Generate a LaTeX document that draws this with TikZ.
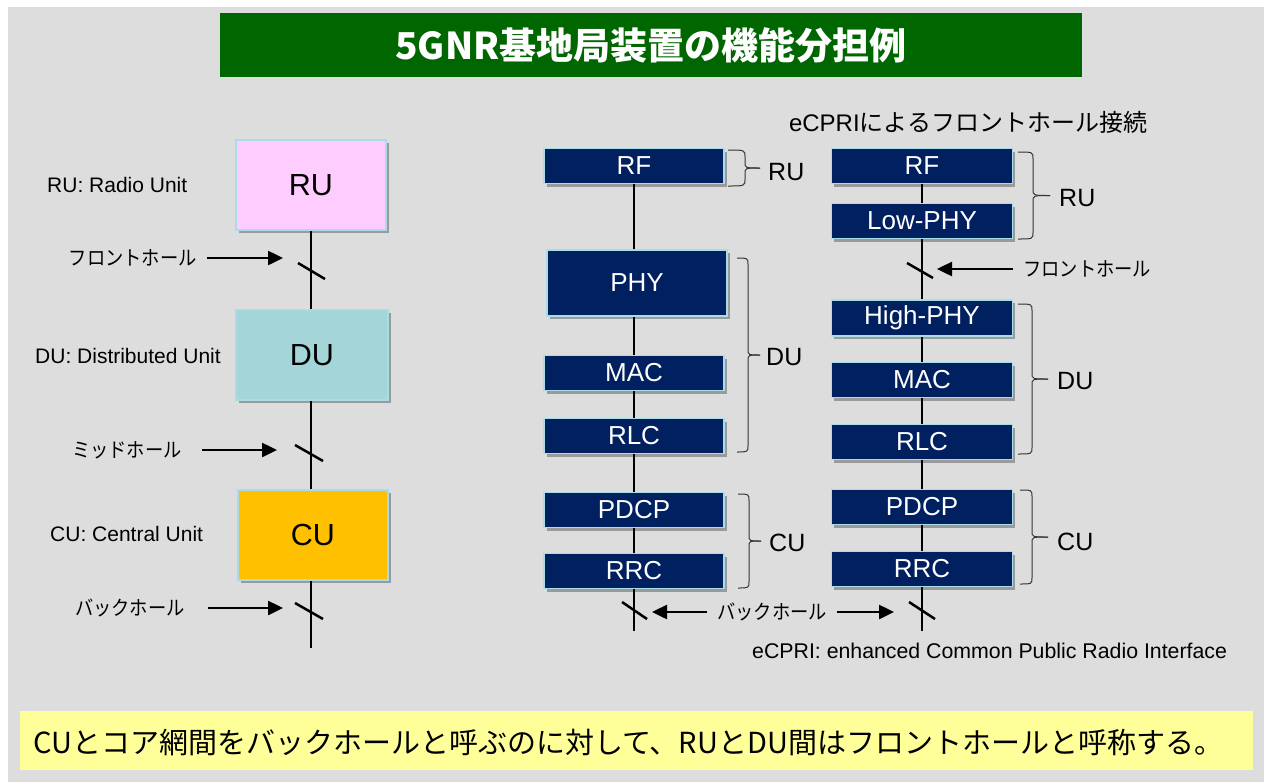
\documentclass[tikz,border=0pt]{standalone}
\usepackage{fontspec}
\setmainfont{Liberation Sans}
\newfontfamily\jp{Noto Sans CJK JP}
\usetikzlibrary{arrows.meta,shadows}

\definecolor{bggray}{HTML}{DDDDDD}
\definecolor{titlegreen}{HTML}{006600}
\definecolor{noteyellow}{HTML}{FFFF99}
\definecolor{rupink}{HTML}{FFCCFF}
\definecolor{duteal}{HTML}{A3D5D9}
\definecolor{cuorange}{HTML}{FFC000}
\definecolor{navy}{HTML}{002060}
\definecolor{edgeblue}{HTML}{A8DCE6}

\newcommand\fsz[1]{\fontsize{#1}{#1}\selectfont}
\newcommand\jn[1]{\scalebox{0.9}[1]{#1}}
\newcommand\mybrace[5]{%
  \draw[brc] (#1,#4) .. controls (#2,#4) .. (#2,{#4+7}) -- (#2,{(#4+#5)/2-6}) .. controls (#2,{(#4+#5)/2}) .. (#3,{(#4+#5)/2});
  \draw[brc] (#3,{(#4+#5)/2}) .. controls (#2,{(#4+#5)/2}) .. (#2,{(#4+#5)/2+6}) -- (#2,{#5-7}) .. controls (#2,#5) .. (#1,#5);
}

\begin{document}
\begin{tikzpicture}[x=1pt,y=-1pt,
  shad/.style={drop shadow={shadow xshift=2.5pt,shadow yshift=-3pt,opacity=0.3,fill=black}},
  unitbox/.style={shad, draw=edgeblue, line width=1.5pt, inner sep=0pt, minimum width=150pt, minimum height=90pt, font=\fsz{30.5}},
  layerbox/.style={shad, draw=edgeblue, line width=1.5pt, fill=navy, text=white, inner sep=0pt, minimum width=180pt, minimum height=35pt, font=\fsz{26}},
  link/.style={line width=2.5pt, black},
  arr/.style={line width=2.5pt, -{Triangle[length=15pt,width=14pt]}},
  slash/.style={line width=2.5pt},
  brc/.style={line width=1pt, draw=black!80},
  lbl/.style={font=\fsz{21}, inner sep=0pt},
  jlbl/.style={font=\jp\fsz{20.3}, inner sep=0pt},
  grp/.style={font=\fsz{25}, inner sep=0pt, anchor=west},
]
\useasboundingbox (0,0) rectangle (1264,782);
\fill[white] (0,0) rectangle (1264,782);
\fill[bggray] (8,7) rectangle (1264,782);

% title
\node[fill=titlegreen, minimum width=862pt, minimum height=64pt, inner sep=0pt, text=white, font=\jp\bfseries\fsz{37}] (title) at (651,45) {5GNR基地局装置の機能分担例};

% bottom note
\node[fill=noteyellow, minimum width=1233pt, minimum height=59pt, inner sep=0pt] (note) at (636.5,740.5) {};
\node[anchor=west, inner sep=0pt, font=\jp\fsz{29}] (notetext) at (33,742) {CUとコア網間をバックホールと呼ぶのに対して、RUとDU間はフロントホールと呼称する。};

% ---------- left column ----------
\node[unitbox, fill=rupink] (lru) at (311,185) {RU};
\node[unitbox, fill=duteal, minimum width=152pt] (ldu) at (312,355) {DU};
\node[unitbox, fill=cuorange] (lcu) at (313,535) {CU};
\coordinate (lend) at (311,648);
\draw[link] (lru.south) -- (lru.south |- ldu.north);
\draw[link] (lru.south |- ldu.south) -- (lru.south |- lcu.north);
\draw[link] (lru.south |- lcu.south) -- (lend);

\node[lbl, anchor=west] (rulbl) at (47,185) {RU: Radio Unit};
\node[lbl, anchor=west] (dulbl) at (35,356) {DU: Distributed Unit};
\node[lbl, anchor=west] (culbl) at (50,534) {CU: Central Unit};

\node[jlbl, anchor=east] (lfh) at (197,258) {\jn{フロントホール}};
\node[jlbl, anchor=east] (lmh) at (182,450) {\jn{ミッドホール}};
\node[jlbl, anchor=east] (lbh) at (185,608) {\jn{バックホール}};
\coordinate (lfhtip) at (283,258);
\coordinate (lmhtip) at (277,450);
\coordinate (lbhtip) at (283,608);
\draw[arr] (207,258) -- (lfhtip);
\draw[arr] (202,450) -- (lmhtip);
\draw[arr] (208,608) -- (lbhtip);
\draw[slash] (298,263) -- (325,279);
\draw[slash] (295,445) -- (323,461);
\draw[slash] (295,603) -- (323,619);

% ---------- middle column ----------
\node[layerbox] (mrf) at (634,166) {RF};
\node[layerbox, minimum height=66pt] (mphy) at (637,283) {PHY};
\node[layerbox] (mmac) at (634,373) {MAC};
\node[layerbox] (mrlc) at (634,436) {RLC};
\node[layerbox] (mpdcp) at (634,510) {PDCP};
\node[layerbox] (mrrc) at (634,571) {RRC};
\coordinate (mend) at (634,631);
\draw[link] (mrf.south) -- (mrf.south |- mphy.north);
\draw[link] (mrf.south |- mphy.south) -- (mmac.north);
\draw[link] (mmac.south) -- (mrlc.north);
\draw[link] (mrlc.south) -- (mpdcp.north);
\draw[link] (mpdcp.south) -- (mrrc.north);
\draw[link] (mrrc.south) -- (mend);
\draw[slash] (622,602) -- (647,619);

\mybrace{728}{745}{760}{150}{186}
\node[grp] (mru) at (768,172) {RU};
\mybrace{737}{748}{760}{258}{452}
\node[grp] (mdu) at (766,357) {DU};
\mybrace{738}{749}{761}{494}{588}
\node[grp] (mcu) at (769,543) {CU};

% backhaul between columns
\node[jlbl] (mbh) at (772,612) {\jn{バックホール}};
\coordinate (mbhl) at (652,612);
\coordinate (mbhr) at (894,612);
\draw[arr] ([xshift=-10pt]mbh.west) -- (mbhl);
\draw[arr] ([xshift=10pt]mbh.east) -- (mbhr);

% ---------- right column ----------
\node[font=\fsz{24}, inner sep=0pt] (ecpri) at (968,122) {eCPRI{\jp によるフロントホール接続}};
\node[layerbox, minimum width=181pt] (rrf) at (922,166) {RF};
\node[layerbox, minimum width=181pt] (rlow) at (922,221) {Low-PHY};
\node[layerbox, minimum width=181pt, minimum height=36pt] (rhigh) at (922,318) {High-PHY};
\node[layerbox, minimum width=181pt] (rmac) at (922,380) {MAC};
\node[layerbox, minimum width=181pt] (rrlc) at (922,442) {RLC};
\node[layerbox, minimum width=181pt] (rpdcp) at (922,507) {PDCP};
\node[layerbox, minimum width=181pt] (rrrc) at (922,569) {RRC};
\coordinate (rend) at (922,631);
\draw[link] (rrf.south) -- (rlow.north);
\draw[link] (rlow.south) -- (rhigh.north);
\draw[link] (rhigh.south) -- (rmac.north);
\draw[link] (rmac.south) -- (rrlc.north);
\draw[link] (rrlc.south) -- (rpdcp.north);
\draw[link] (rpdcp.south) -- (rrrc.north);
\draw[link] (rrrc.south) -- (rend);
\draw[slash] (907,263) -- (933,278);
\draw[slash] (909,602) -- (935,619);

\node[jlbl, anchor=west] (rfh) at (1023,269) {\jn{フロントホール}};
\coordinate (rfhtip) at (937,269);
\draw[arr] ([xshift=-10pt]rfh.west) -- (rfhtip);

\mybrace{1018}{1033}{1050}{152}{239}
\node[grp] (rru) at (1059,198) {RU};
\mybrace{1018}{1032}{1048}{304}{454}
\node[grp] (rdu) at (1057,381) {DU};
\mybrace{1020}{1032}{1048}{490}{584}
\node[grp] (rcu) at (1057,542) {CU};

\node[anchor=west, inner sep=0pt, font=\fsz{21.3}] (fn) at (752,651) {eCPRI: enhanced Common Public Radio Interface};
\end{tikzpicture}
\end{document}
